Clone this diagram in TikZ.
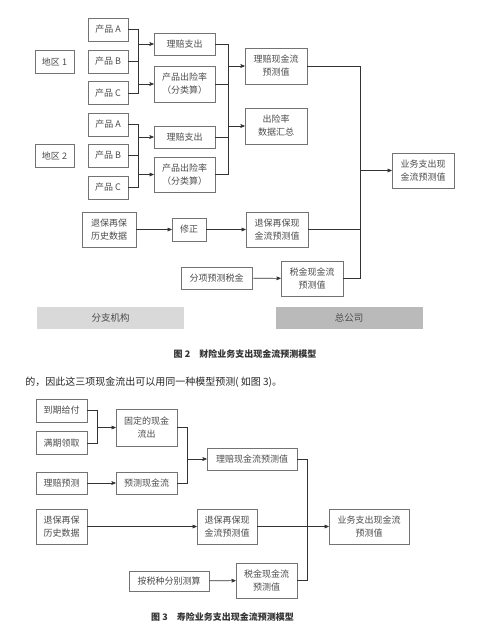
\documentclass[tikz,border=0pt]{standalone}
\usepackage{fontspec}
\setmainfont{Noto Sans CJK SC}
\usetikzlibrary{arrows}

\begin{document}
\begin{tikzpicture}[x=1pt,y=-1pt,->,>=stealth',semithick,color=black!80,
  box/.style={draw=black!55,fill=white,text=black!70,align=center,inner sep=0pt,
    font=\fontsize{9}{13}\selectfont,minimum height=23pt,minimum width=#1pt},
  tbox/.style={box=#1,minimum height=35pt},
  bar/.style={fill=#1,text=black!70,inner sep=0pt,minimum width=147pt,
    minimum height=22pt,font=\fontsize{9.5}{11}\selectfont},
  line/.style={-}]
  \useasboundingbox (0,0) rectangle (477,640);

  % figure 2
  \node[box=39] (reg1) at (54.5,61.5)  {地区 1};
  \node[box=40] (pA1)  at (108,29.5)   {产品 A};
  \node[box=40] (pB1)  at (108,61.5)   {产品 B};
  \node[box=40] (pC1)  at (108,93)     {产品 C};
  \node[box=61,minimum height=22pt] (cl1) at (184.5,44) {理赔支出};
  \node[tbox=61,minimum height=36pt] (rt1) at (184.5,84) {产品出险率\\（分类算）};

  \node[box=39] (reg2) at (54.5,155.5) {地区 2};
  \node[box=40] (pA2)  at (108,124.5)  {产品 A};
  \node[box=40] (pB2)  at (108,155.5)  {产品 B};
  \node[box=40] (pC2)  at (108,187.5)  {产品 C};
  \node[box=61,minimum height=22pt] (cl2) at (184.5,137) {理赔支出};
  \node[tbox=61] (rt2) at (184.5,174.5) {产品出险率\\（分类算）};

  \node[tbox=62,minimum height=36pt] (cf)  at (276,66)  {理赔现金流\\预测值};
  \node[tbox=62,minimum height=36pt] (sum) at (276,126) {出险率\\数据汇总};
  \node[tbox=62] (total) at (423,170.5) {业务支出现\\金流预测值};

  \node[tbox=54] (hist) at (109,229.5) {退保再保\\历史数据};
  \node[box=34]  (fix)  at (189,229.5) {修正};
  \node[tbox=62] (sur)  at (277,229.5) {退保再保现\\金流预测值};
  \node[box=71,minimum height=22pt] (taxin) at (216.5,278) {分项预测税金};
  \node[tbox=62] (tax)  at (312,278.5) {税金现金流\\预测值};

  \node[bar=black!15] (branch) at (110.5,318) {分支机构};
  \node[bar=black!27] (head)   at (349,318)   {总公司};
  \node[text=black!80,font=\fontsize{9}{11}\selectfont\bfseries] (cap2) at (245,354)
    {图 2\quad 财险业务支出现金流预测模型};

  \coordinate (b1) at (138,0);
  \coordinate (b3) at (228,0);
  \coordinate (b4) at (360,0);
  \draw[line] (pA1.east) -| (b1 |- pC1.east) -- (pC1.east);
  \draw[line] (pB1.east) -- (b1 |- pB1.east);
  \draw (b1 |- cl1) -- (cl1);
  \draw (b1 |- rt1) -- (rt1);
  \draw[line] (pA2.east) -| (b1 |- pC2.east) -- (pC2.east);
  \draw[line] (pB2.east) -- (b1 |- pB2.east);
  \draw (b1 |- cl2) -- (cl2);
  \draw (b1 |- rt2) -- (rt2);
  \draw[line] (cl1.east) -| (b3 |- rt2.east) -- (rt2.east);
  \draw[line] (rt1.east) -- (b3 |- rt1.east);
  \draw[line] (cl2.east) -- (b3 |- cl2.east);
  \draw (b3 |- cf) -- (cf);
  \draw (b3 |- sum) -- (sum);
  \draw[line] (cf.east) -| (b4 |- tax.east) -- (tax.east);
  \draw[line] (sur.east) -- (b4 |- sur.east);
  \draw (b4 |- total) -- (total);
  \draw (hist) -- (fix);
  \draw (fix) -- (sur);
  \draw (taxin) -- (tax);

  \node[anchor=west,inner sep=0pt,text=black!85,font=\fontsize{10}{12}\selectfont] (para) at (25,382)
    {的，因此这三项现金流出可以用同一种模型预测( 如图 3)。};

  % figure 3
  \node[box=51] (due)   at (61.5,410.5) {到期给付};
  \node[box=51] (mat)   at (61.5,443)   {满期领取};
  \node[tbox=61,minimum height=37pt] (fixed) at (146.5,427.5) {固定的现金\\流出};
  \node[box=51,minimum height=22pt] (clp) at (61.5,483)  {理赔预测};
  \node[box=61,minimum height=22pt] (pcf) at (146.5,483) {预测现金流};
  \node[box=90,minimum height=22pt] (ccf) at (252,459)   {理赔现金流预测值};
  \node[tbox=51] (hist3)  at (61.5,526.5) {退保再保\\历史数据};
  \node[tbox=60] (sur3)   at (227,526.5)  {退保再保现\\金流预测值};
  \node[tbox=80] (total3) at (369,526.5)  {业务支出现金流\\预测值};
  \node[box=80,minimum height=20pt] (taxm) at (169,581) {按税种分别测算};
  \node[tbox=61] (tax3)   at (266.5,580.5) {税金现金流\\预测值};
  \node[text=black!80,font=\fontsize{9}{11}\selectfont\bfseries] (cap3) at (222.5,617)
    {图 3\quad 寿险业务支出现金流预测模型};

  \coordinate (b5) at (97,0);
  \coordinate (b6) at (187,0);
  \coordinate (b7) at (307,0);
  \draw[line] (due.east) -| (b5 |- mat.east) -- (mat.east);
  \draw (b5 |- fixed) -- (fixed);
  \draw (clp) -- (pcf);
  \draw[line] (fixed.east) -| (b6 |- pcf.east) -- (pcf.east);
  \draw (b6 |- ccf) -- (ccf);
  \draw[line] (ccf.east) -| (b7 |- tax3.east) -- (tax3.east);
  \draw (hist3) -- (sur3);
  \draw (sur3) -- (total3);
  \draw (taxm) -- (tax3);
\end{tikzpicture}
\end{document}
